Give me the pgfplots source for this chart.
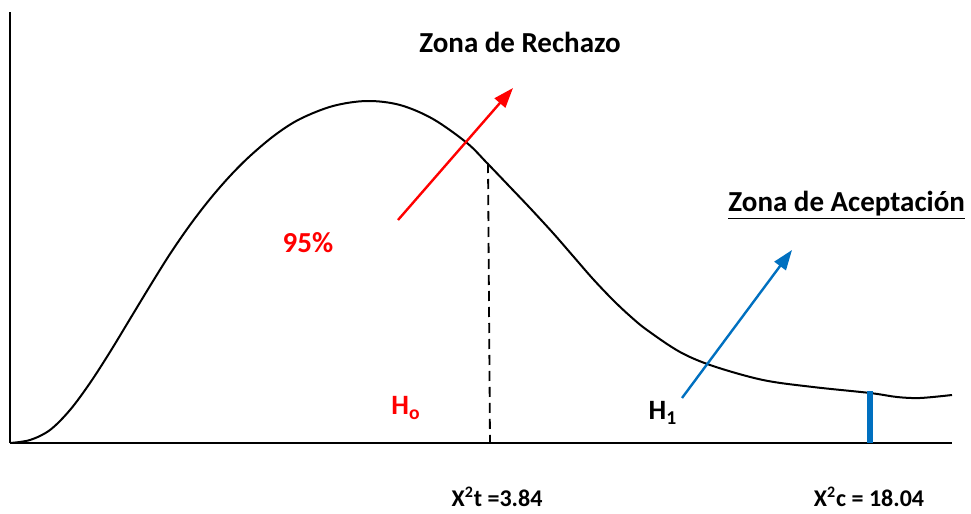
\documentclass[border=0pt]{standalone}
\usepackage{fontspec}
\setmainfont{Carlito}
\usepackage{pgfplots}
\pgfplotsset{compat=1.18}
\usetikzlibrary{arrows.meta}
\definecolor{rojo}{RGB}{255,0,0}
\definecolor{azul}{RGB}{0,112,192}
\begin{document}
\begin{tikzpicture}
\begin{axis}[
  width=485.5pt, height=257pt, scale only axis,
  xmin=0, xmax=971, ymin=0, ymax=514, y dir=reverse,
  hide axis, clip=false,
]
\path (axis cs:0,0) rectangle (axis cs:971,514);
% axes
\addplot[black, line width=1pt] coordinates {(10,12) (10,443)};
\addplot[black, line width=1pt] coordinates {(10,443) (952,443)};
% curve
\addplot[black, line width=1pt, smooth, tension=0.55] coordinates {
(10,443) (30,440) (50,430) (70,410) (90,383) (110,352) (130,319) (150,286)
(170,254) (190,225) (210,199) (230,176) (250,156) (275,135) (300,119)
(333,106) (367,101) (400,105) (433,119) (467,143) (487,163) (510,187) (530,208)
(553,233) (573,256) (593,279) (613,300) (630,316) (647,330) (680,352) (713,366) (763,380)
(813,387) (870,393) (897,397) (920,398) (952,395)};
% dashed critical line
\addplot[black, line width=0.9pt, dash pattern=on 5pt off 3pt] coordinates {(488,163) (490,443)};
% blue bar
\addplot[azul, line width=3pt] coordinates {(870,391) (870,443)};
% arrows
\addplot[rojo, line width=1.2pt, -{Triangle[length=10pt,width=7pt]}] coordinates {(398,220) (513,88)};
\addplot[azul, line width=1.2pt, -{Triangle[length=10pt,width=7pt]}] coordinates {(682,398) (792,250)};
% texts
\node[font=\bfseries\fontsize{14.5}{16}\selectfont] at (axis cs:520,42) {Zona de Rechazo};
\node[font=\bfseries\fontsize{14.5}{16}\selectfont, anchor=base west, inner sep=0pt] at (axis cs:728,211) {\underline{Zona de Aceptación}};
\node[font=\bfseries\fontsize{14.5}{16}\selectfont, text=rojo] at (axis cs:308,243) {95\%};
\node[font=\bfseries\fontsize{14}{16}\selectfont, text=rojo] at (axis cs:406,408) {H\textsubscript{o}};
\node[font=\bfseries\fontsize{14}{16}\selectfont] at (axis cs:663,413) {H\textsubscript{1}};
\node[font=\bfseries\fontsize{12}{14}\selectfont] at (axis cs:497,497) {X\textsuperscript{2}t =3.84};
\node[font=\bfseries\fontsize{12}{14}\selectfont] at (axis cs:869,497) {X\textsuperscript{2}c = 18.04};
\end{axis}
\end{tikzpicture}
\end{document}
